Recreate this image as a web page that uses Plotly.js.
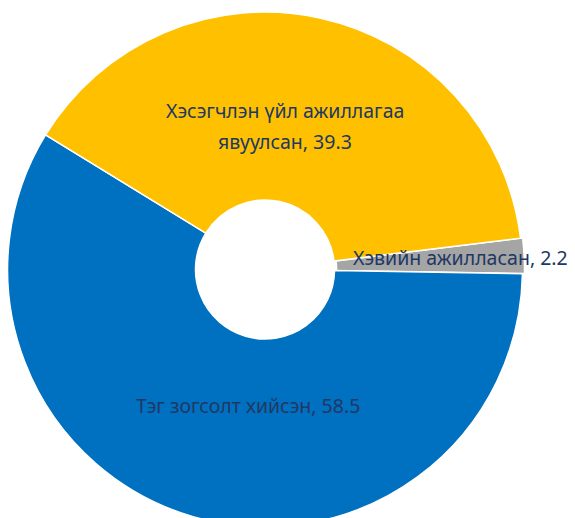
<!DOCTYPE html>
<html>
<head>
<meta charset="utf-8">
<script src="https://cdn.plot.ly/plotly-3.0.1.min.js"></script>
<style>
html,body{margin:0;padding:0;overflow:hidden;background:#fff;}
#chart{width:575px;height:529px;}
</style>
</head>
<body>
<div id="chart"></div>
<script>
// Data (clockwise order starting at the gray slice)
const categories = ["Хэвийн ажилласан", "Тэг зогсолт хийсэн", "Хэсэгчлэн үйл ажиллагаа явуулсан"];
const values = [2.2, 58.5, 39.3];
const colors = ["#A5A5A5", "#0070C0", "#FFC000"];
// label lines as displayed
const labelLines = [["Хэвийн ажилласан"], ["Тэг зогсолт хийсэн"], ["Хэсэгчлэн үйл ажиллагаа", "явуулсан"]];

// Style / placement config
const W = 575, H = 529;
const M = {l: 0, r: 0, t: 10, b: 0};
const domX = [0.0096, 0.9122];
const rotation = 83;
const labelR = [0.755, 0.53, 0.56];
const labelDA = [-0.4, -9, -4.3];
const lineGap = 31;
const fontSpec = {family: "Noto Sans, Open Sans, sans-serif", size: 19.5, color: "#203864"};

const trace = {
  type: "pie",
  labels: categories,
  values: values,
  sort: false,
  direction: "clockwise",
  rotation: rotation,
  hole: 0.27,
  pull: [0.008, 0, 0],
  marker: {colors: colors, line: {color: "#FFFFFF", width: 1.5}},
  textinfo: "none",
  hoverinfo: "label+value",
  domain: {x: domX, y: [0, 1]}
};

const total = values.reduce((a, b) => a + b, 0);
const plotW = W - M.l - M.r, plotH = H - M.t - M.b;
const cxPx = M.l + plotW * (domX[0] + domX[1]) / 2;
const cyPx = M.t + plotH / 2;
const Rpx = Math.min(plotW * (domX[1] - domX[0]), plotH) / 2;
let start = rotation;
const annotations = [];
values.forEach((v, i) => {
  const span = v / total * 360;
  const mid = start + span / 2 + labelDA[i];
  start += span;
  const a = mid * Math.PI / 180;
  const px = cxPx + labelR[i] * Rpx * Math.sin(a);
  const py = cyPx - labelR[i] * Rpx * Math.cos(a);
  const lines = labelLines[i].slice();
  lines[lines.length - 1] += ", " + v.toFixed(1);
  const n = lines.length;
  lines.forEach((ln, k) => {
    const ly = py + (k - (n - 1) / 2) * lineGap;
    annotations.push({
      xref: "paper", yref: "paper",
      x: (px - M.l) / plotW, y: 1 - (ly - M.t) / plotH,
      xanchor: "center", yanchor: "middle",
      text: ln,
      showarrow: false,
      align: "center",
      font: fontSpec
    });
  });
});

const layout = {
  width: W, height: H,
  margin: M,
  showlegend: false,
  paper_bgcolor: "#FFFFFF",
  annotations: annotations
};

Plotly.newPlot("chart", [trace], layout, {staticPlot: true, displayModeBar: false});
</script>
</body>
</html>
